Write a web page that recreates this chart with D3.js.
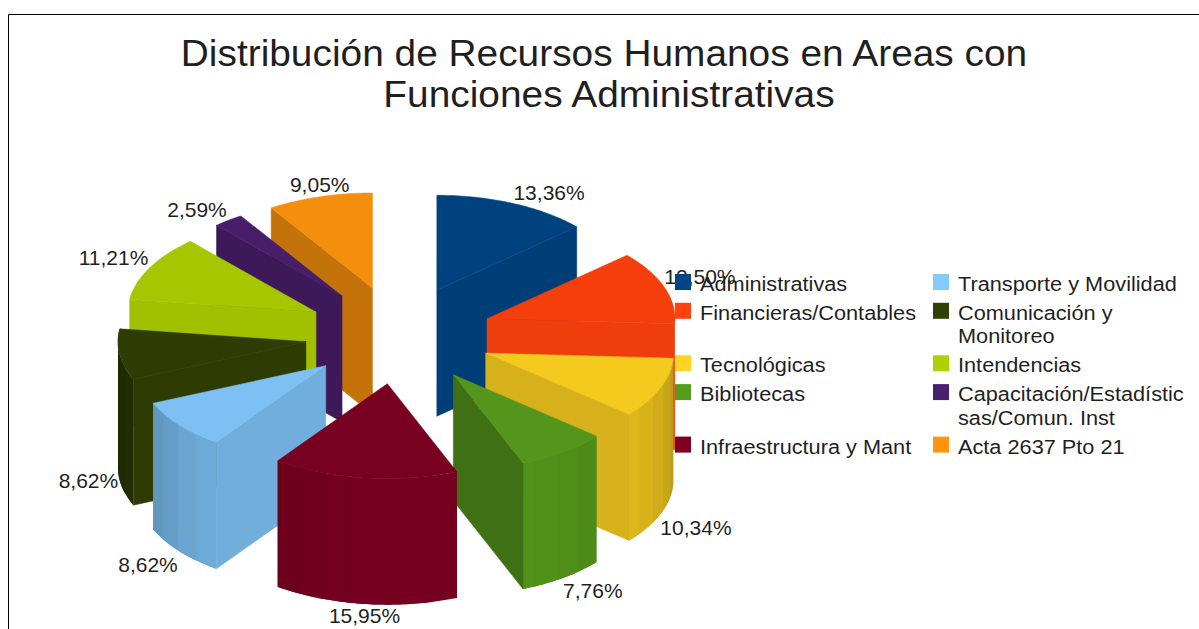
<!DOCTYPE html>
<html><head><meta charset="utf-8">
<script src="https://cdn.jsdelivr.net/npm/d3@7"></script>
<style>html,body{margin:0;padding:0;background:#fff}svg{display:block}text{font-family:"Liberation Sans",Arial,sans-serif;fill:#1f1f1f}</style>
</head><body><svg id="c" width="1199" height="629"></svg>
<script>
const titleLines = ["Distribución de Recursos Humanos en Areas con", "Funciones Administrativas"];
const categories = ["Administrativas","Financieras/Contables","Tecnológicas","Bibliotecas","Infraestructura y Mant","Transporte y Movilidad","Comunicación y\nMonitoreo","Intendencias","Capacitación/Estadístic\nsas/Comun. Inst","Acta 2637 Pto 21"];
const values = [13.36,12.50,10.34,7.76,15.95,8.62,8.62,11.21,2.59,9.05];
const colors = ["#004586","#ff420e","#ffd320","#579d1c","#7e0021","#83caff","#314004","#aecf00","#4b1f6f","#ff950e"];
// back-to-front drawing order of the exploded slices
const paintOrder = [0,9,8,7,6,5,1,2,3,4];

const W=1199,H=629, cx=398.7, cy=335, Rx=188, Ry=95, exX=93.6, exY=49, depth=126;
const svg=d3.select("#c");
svg.append("path").attr("d",`M${W},14.5H8.5V${H}`).attr("fill","none").attr("stroke","#000").attr("stroke-width",1);

const stretched=(sel,x,y,k)=>sel.attr("transform",`translate(${x},${y}) scale(${k},1)`);

const t=svg.append("g");
titleLines.forEach((d,i)=>stretched(t.append("text"),604+i*5,66+i*41,1.039)
  .attr("text-anchor","middle").attr("font-size",37.4).text(d));

const arcs=d3.pie().sort(null).startAngle(0).endAngle(2*Math.PI).value(d=>d)(values);
const fmt=v=>v.toFixed(2).replace(".",",")+"%";
const line=d3.line();
const shade=(col,f)=>{const c=d3.rgb(col);return d3.rgb(c.r*f,c.g*f,c.b*f).formatHex();};
const light=phi=>0.662+0.278*Math.cos(phi-170*Math.PI/180);

const apex=a=>{const m=(a.startAngle+a.endAngle)/2;return [cx+exX*Math.sin(m),cy-exY*Math.cos(m)];};
const rim=(a,th)=>{const p=apex(a);return [p[0]+Rx*Math.sin(th),p[1]-Ry*Math.cos(th)];};
const down=p=>[p[0],p[1]+depth];
const deg=Math.PI/180;

const pie=svg.append("g");
paintOrder.forEach(i=>{
  const a=arcs[i],col=colors[i],g=pie.append("g");
  const p0=apex(a);
  const quad=(q,fill,sw)=>g.append("path").attr("d",line(q)+"Z").attr("fill",fill).attr("stroke",sw?fill:"none").attr("stroke-width",sw);
  // curved outer wall as facets; each facet runs under the next so no seams show
  const step=8*deg;
  const ths=d3.range(a.startAngle,a.endAngle,step).concat(a.endAngle);
  for(let k=0;k<ths.length-1;k++){
    const t0=ths[k],t1=ths[k+1],mid=(t0+t1)/2;
    if(Math.cos(mid)>=0) continue;
    const tEnd=k<ths.length-2?ths[k+2]:t1;
    const sub=d3.range(t0,tEnd,deg).concat(tEnd).map(th=>rim(a,th));
    quad(sub.concat(sub.map(down).reverse()),shade(col,light(mid)),0);
  }
  // radial walls
  if(Math.sin(a.startAngle)<0){
    const r=rim(a,a.startAngle);
    quad([p0,r,down(r),down(p0)],shade(col,light(a.startAngle-Math.PI/2)),.5);
  }
  if(Math.sin(a.endAngle)>0){
    const r=rim(a,a.endAngle);
    quad([p0,r,down(r),down(p0)],shade(col,light(a.endAngle+Math.PI/2)),.5);
  }
  // top face
  const topPts=[p0].concat(d3.range(a.startAngle,a.endAngle,deg).concat(a.endAngle).map(th=>rim(a,th)));
  quad(topPts,shade(col,.955),.5);
});

// percentage labels placed round each slice's rim
const labels=svg.append("g");
arcs.forEach((a,i)=>{
  const m=(a.startAngle+a.endAngle)/2, s=Math.sin(m), c=Math.cos(m);
  let r=rim(a,m), y;
  if(c>0.1) y=r[1]-3-(Math.abs(s)<.3?2:0);
  else { r=down(r); y=Math.abs(c)<.3?r[1]+8:(Math.abs(s)<.3?r[1]+19:r[1]+20.5); }
  labels.append("text").attr("x",r[0]-(s<0&&Math.abs(s)>=.3?1.5:0)).attr("y",y).attr("font-size",21)
    .attr("text-anchor",Math.abs(s)<.3?"middle":(s>0?"start":"end")).text(fmt(values[i]));
});

// legend, two columns of five
const legend=svg.append("g");
const rowsPerCol=5, colX=[675,933], textGap=25;
const lines=categories.map(d=>d.split("\n"));
let rowY=274;
for(let r=0;r<rowsPerCol;r++){
  const nl=Math.max(lines[r].length,lines[r+rowsPerCol].length);
  [r,r+rowsPerCol].forEach((idx,cIdx)=>{
    legend.append("rect").attr("x",colX[cIdx]).attr("y",rowY).attr("width",16).attr("height",16).attr("fill",colors[idx]);
    lines[idx].forEach((l,j)=>stretched(legend.append("text"),colX[cIdx]+textGap,rowY+17+j*23.5,1.055).attr("font-size",20.6).text(l));
  });
  rowY+=nl===2?52.5:28.8;
}
</script></body></html>
